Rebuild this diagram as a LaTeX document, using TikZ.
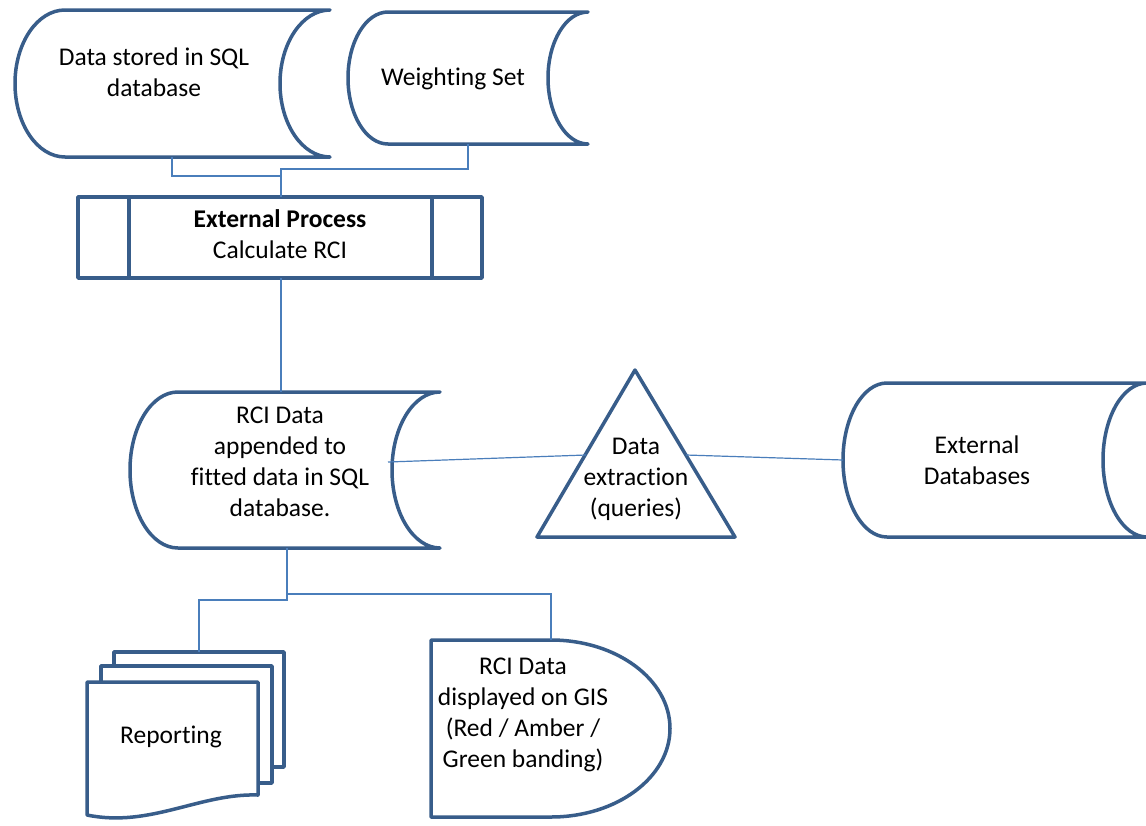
\documentclass[tikz,border=0pt]{standalone}
\usepackage{fontspec}
\setmainfont[Ligatures=NoCommon]{Carlito}
\definecolor{outline}{HTML}{385D8A}
\definecolor{link}{HTML}{4A7EBB}

\begin{document}
\begin{tikzpicture}[x=1pt,y=-1pt,
  outl/.style={draw=outline,line width=3.5pt,fill=white,line join=round},
  conn/.style={draw=link,line width=1.2pt},
  lbl/.style={font=\fontsize{25.5}{31}\selectfont,align=center,inner sep=0pt,anchor=base}]
\useasboundingbox[fill=white] (0,0) rectangle (1146,825);
\draw[outl] (65,10) -- (330,10) arc[start angle=270,end angle=90,x radius=50,y radius=73.5] -- (65,157) arc[start angle=90,end angle=270,x radius=50,y radius=73.5] -- cycle;
\draw[outl] (388,12) -- (588,12) arc[start angle=270,end angle=90,x radius=40,y radius=66] -- (388,144) arc[start angle=90,end angle=270,x radius=40,y radius=66] -- cycle;
\draw[outl] (78,197) rectangle (482,278);
\draw[outl] (129,197) -- (129,278);
\draw[outl] (432,197) -- (432,278);
\draw[outl] (178,392) -- (440,392) arc[start angle=270,end angle=90,x radius=48,y radius=78] -- (178,548) arc[start angle=90,end angle=270,x radius=48,y radius=78] -- cycle;
\draw[outl] (635,370) -- (735,537) -- (537,537) -- cycle;
\draw[outl] (887,383) -- (1147,383) arc[start angle=270,end angle=90,x radius=44,y radius=77] -- (887,537) arc[start angle=90,end angle=270,x radius=44,y radius=77] -- cycle;
\draw[outl] (114,652) rectangle (284,767);
\draw[outl] (101,666) rectangle (272,783);
\draw[outl] (87,682) -- (258,682) -- (258,795) .. controls (200,793) and (150,828) .. (87,815) -- cycle;
\draw[outl] (431,640) -- (551,640) arc[start angle=270,end angle=450,x radius=119,y radius=88.5] -- (431,817) -- cycle;
\node[lbl] (sqldata) at (154,96) {Data stored in SQL\\database};
\node[lbl] (weights) at (453,85) {Weighting Set};
\node[lbl] (calcrci) at (280,258) {\textbf{External Process}\\Calculate RCI};
\node[lbl] (rcidata) at (280,516) {RCI Data\\appended to\\fitted data in SQL\\database.};
\node[lbl] (extract) at (636,516) {Data\\extraction\\(queries)};
\node[lbl] (extdb) at (977,484) {External\\Databases};
\node[lbl] (report) at (171,743) {Reporting};
\node[lbl] (gisview) at (523,767) {RCI Data\\displayed on GIS\\(Red / Amber /\\Green banding)};
\coordinate (sqlbot) at (172,157);
\coordinate (wsbot) at (468,144);
\coordinate (proctop) at (281,197);
\coordinate (procbot) at (281,278);
\coordinate (rcitop) at (281,392);
\coordinate (rcibot) at (287,548);
\coordinate (rciright) at (388,462);
\coordinate (trileft) at (586,455);
\coordinate (triright) at (686,455);
\coordinate (extleft) at (843,460);
\coordinate (reptop) at (199,652);
\coordinate (gistop) at (551,640);
\draw[conn] (sqlbot) -- ++(0,19) -| (proctop);
\draw[conn] (wsbot) -- ++(0,25) -| (proctop);
\draw[conn] (procbot) -- (rcitop);
\draw[conn] (rciright) -- (trileft);
\draw[conn] (triright) -- (extleft);
\draw[conn] (rcibot) -- ++(0,52) -| (reptop);
\draw[conn] (rcibot) -- ++(0,46) -| (gistop);
\end{tikzpicture}
\end{document}
